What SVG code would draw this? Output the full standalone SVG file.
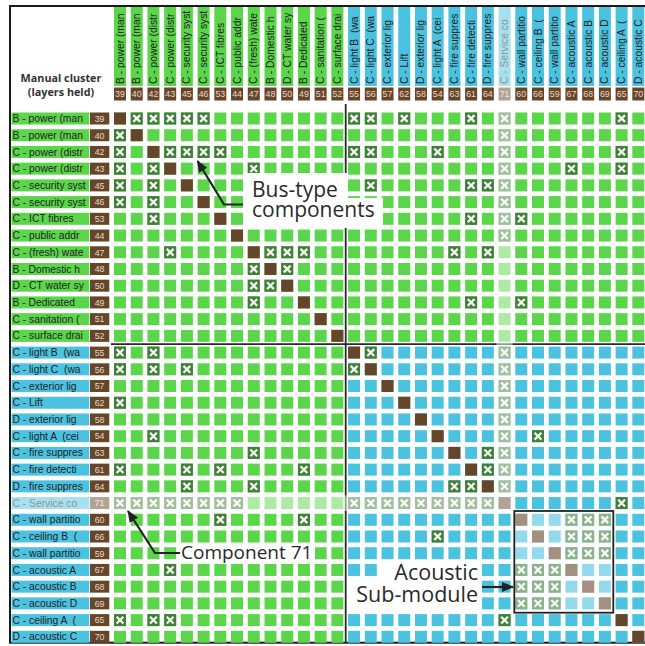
<svg xmlns="http://www.w3.org/2000/svg" xmlns:xlink="http://www.w3.org/1999/xlink" width="645" height="646" viewBox="0 0 645 646">
<style>
.lg{fill:#5BD64B}.lb{fill:#4CC2E1}.nb{fill:#66462A}
.t{font-family:"Liberation Sans",Arial,sans-serif;font-size:10.3px;fill:#222}
.n{font-family:"Liberation Sans",Arial,sans-serif;font-size:8.8px;fill:#E8D9C6;text-anchor:middle}
.ann{font-family:"Open Sans","Liberation Sans",sans-serif;font-size:21px;fill:#2a2a2a}
.hd{font-family:"Open Sans","Liberation Sans",sans-serif;font-size:10.8px;font-weight:700;fill:#333;text-anchor:middle}
.div{stroke:#2a2a2a;stroke-width:1.8;fill:none}
.arr{stroke:#222;stroke-width:2.2;fill:none;marker-end:url(#ah)}
</style>
<defs>
<rect id="d" width="12" height="12" fill="#66462A"/>
<g id="x"><rect width="12" height="12" fill="#3F7F3A"/><path d="M2.6,2.6L9.4,9.4M9.4,2.6L2.6,9.4" stroke="#F4F4EC" stroke-width="2.3"/></g>
<g id="rowG" class="lg"><rect x="0" width="12" height="12"/><rect x="16.72" width="12" height="12"/><rect x="33.44" width="12" height="12"/><rect x="50.16" width="12" height="12"/><rect x="66.88" width="12" height="12"/><rect x="83.6" width="12" height="12"/><rect x="100.32" width="12" height="12"/><rect x="117.04" width="12" height="12"/><rect x="133.76" width="12" height="12"/><rect x="150.48" width="12" height="12"/><rect x="167.2" width="12" height="12"/><rect x="183.92" width="12" height="12"/><rect x="200.64" width="12" height="12"/><rect x="217.36" width="12" height="12"/><rect x="234.08" width="12" height="12"/><rect x="250.8" width="12" height="12"/><rect x="267.52" width="12" height="12"/><rect x="284.24" width="12" height="12"/><rect x="300.96" width="12" height="12"/><rect x="317.68" width="12" height="12"/><rect x="334.4" width="12" height="12"/><rect x="351.12" width="12" height="12"/><rect x="367.84" width="12" height="12"/><rect x="384.56" width="12" height="12"/><rect x="401.28" width="12" height="12"/><rect x="418" width="12" height="12"/><rect x="434.72" width="12" height="12"/><rect x="451.44" width="12" height="12"/><rect x="468.16" width="12" height="12"/><rect x="484.88" width="12" height="12"/><rect x="501.6" width="12" height="12"/><rect x="518.32" width="12" height="12"/></g>
<g id="rowM"><g class="lg"><rect x="0" width="12" height="12"/><rect x="16.72" width="12" height="12"/><rect x="33.44" width="12" height="12"/><rect x="50.16" width="12" height="12"/><rect x="66.88" width="12" height="12"/><rect x="83.6" width="12" height="12"/><rect x="100.32" width="12" height="12"/><rect x="117.04" width="12" height="12"/><rect x="133.76" width="12" height="12"/><rect x="150.48" width="12" height="12"/><rect x="167.2" width="12" height="12"/><rect x="183.92" width="12" height="12"/><rect x="200.64" width="12" height="12"/><rect x="217.36" width="12" height="12"/></g><g class="lb"><rect x="234.08" width="12" height="12"/><rect x="250.8" width="12" height="12"/><rect x="267.52" width="12" height="12"/><rect x="284.24" width="12" height="12"/><rect x="300.96" width="12" height="12"/><rect x="317.68" width="12" height="12"/><rect x="334.4" width="12" height="12"/><rect x="351.12" width="12" height="12"/><rect x="367.84" width="12" height="12"/><rect x="384.56" width="12" height="12"/><rect x="401.28" width="12" height="12"/><rect x="418" width="12" height="12"/><rect x="434.72" width="12" height="12"/><rect x="451.44" width="12" height="12"/><rect x="468.16" width="12" height="12"/><rect x="484.88" width="12" height="12"/><rect x="501.6" width="12" height="12"/><rect x="518.32" width="12" height="12"/></g></g>
<marker id="ah" markerUnits="userSpaceOnUse" markerWidth="12" markerHeight="10" refX="11" refY="5" orient="auto"><path d="M0,0L12,5L0,10z" fill="#222"/></marker>
</defs>
<rect width="645" height="646" fill="#fff"/>
<rect x="10" y="6" width="640" height="636.7" fill="none" stroke="#1a1a1a" stroke-width="2"/>
<g id="title"><text class="hd" x="61" y="82">Manual cluster</text><text class="hd" x="61" y="96">(layers held)</text></g>

<g id="row-labels">
<g id="r39" transform="translate(0,112.5)"><rect class="lg" x="11.5" width="77.8" height="12"/><rect class="nb" x="90" width="19.3" height="12"/><text class="t" x="12.5" y="9.6">B - power (man</text><text class="n" x="99.6" y="9.3">39</text></g>
<g id="r40" transform="translate(0,129.22)"><rect class="lg" x="11.5" width="77.8" height="12"/><rect class="nb" x="90" width="19.3" height="12"/><text class="t" x="12.5" y="9.6">B - power (man</text><text class="n" x="99.6" y="9.3">40</text></g>
<g id="r42" transform="translate(0,145.94)"><rect class="lg" x="11.5" width="77.8" height="12"/><rect class="nb" x="90" width="19.3" height="12"/><text class="t" x="12.5" y="9.6">C - power (distr</text><text class="n" x="99.6" y="9.3">42</text></g>
<g id="r43" transform="translate(0,162.66)"><rect class="lg" x="11.5" width="77.8" height="12"/><rect class="nb" x="90" width="19.3" height="12"/><text class="t" x="12.5" y="9.6">C - power (distr</text><text class="n" x="99.6" y="9.3">43</text></g>
<g id="r45" transform="translate(0,179.38)"><rect class="lg" x="11.5" width="77.8" height="12"/><rect class="nb" x="90" width="19.3" height="12"/><text class="t" x="12.5" y="9.6">C - security syst</text><text class="n" x="99.6" y="9.3">45</text></g>
<g id="r46" transform="translate(0,196.1)"><rect class="lg" x="11.5" width="77.8" height="12"/><rect class="nb" x="90" width="19.3" height="12"/><text class="t" x="12.5" y="9.6">C - security syst</text><text class="n" x="99.6" y="9.3">46</text></g>
<g id="r53" transform="translate(0,212.82)"><rect class="lg" x="11.5" width="77.8" height="12"/><rect class="nb" x="90" width="19.3" height="12"/><text class="t" x="12.5" y="9.6">C - ICT fibres</text><text class="n" x="99.6" y="9.3">53</text></g>
<g id="r44" transform="translate(0,229.54)"><rect class="lg" x="11.5" width="77.8" height="12"/><rect class="nb" x="90" width="19.3" height="12"/><text class="t" x="12.5" y="9.6">C - public addr</text><text class="n" x="99.6" y="9.3">44</text></g>
<g id="r47" transform="translate(0,246.26)"><rect class="lg" x="11.5" width="77.8" height="12"/><rect class="nb" x="90" width="19.3" height="12"/><text class="t" x="12.5" y="9.6">C - (fresh) wate</text><text class="n" x="99.6" y="9.3">47</text></g>
<g id="r48" transform="translate(0,262.98)"><rect class="lg" x="11.5" width="77.8" height="12"/><rect class="nb" x="90" width="19.3" height="12"/><text class="t" x="12.5" y="9.6">B - Domestic h</text><text class="n" x="99.6" y="9.3">48</text></g>
<g id="r50" transform="translate(0,279.7)"><rect class="lg" x="11.5" width="77.8" height="12"/><rect class="nb" x="90" width="19.3" height="12"/><text class="t" x="12.5" y="9.6">D - CT water sy</text><text class="n" x="99.6" y="9.3">50</text></g>
<g id="r49" transform="translate(0,296.42)"><rect class="lg" x="11.5" width="77.8" height="12"/><rect class="nb" x="90" width="19.3" height="12"/><text class="t" x="12.5" y="9.6">B - Dedicated</text><text class="n" x="99.6" y="9.3">49</text></g>
<g id="r51" transform="translate(0,313.14)"><rect class="lg" x="11.5" width="77.8" height="12"/><rect class="nb" x="90" width="19.3" height="12"/><text class="t" x="12.5" y="9.6">C - sanitation (</text><text class="n" x="99.6" y="9.3">51</text></g>
<g id="r52" transform="translate(0,329.86)"><rect class="lg" x="11.5" width="77.8" height="12"/><rect class="nb" x="90" width="19.3" height="12"/><text class="t" x="12.5" y="9.6">C - surface drai</text><text class="n" x="99.6" y="9.3">52</text></g>
<g id="r55" transform="translate(0,346.58)"><rect class="lb" x="11.5" width="77.8" height="12"/><rect class="nb" x="90" width="19.3" height="12"/><text class="t" x="12.5" y="9.6" xml:space="preserve">C - light B  (wa</text><text class="n" x="99.6" y="9.3">55</text></g>
<g id="r56" transform="translate(0,363.3)"><rect class="lb" x="11.5" width="77.8" height="12"/><rect class="nb" x="90" width="19.3" height="12"/><text class="t" x="12.5" y="9.6" xml:space="preserve">C - light C  (wa</text><text class="n" x="99.6" y="9.3">56</text></g>
<g id="r57" transform="translate(0,380.02)"><rect class="lb" x="11.5" width="77.8" height="12"/><rect class="nb" x="90" width="19.3" height="12"/><text class="t" x="12.5" y="9.6">C - exterior lig</text><text class="n" x="99.6" y="9.3">57</text></g>
<g id="r62" transform="translate(0,396.74)"><rect class="lb" x="11.5" width="77.8" height="12"/><rect class="nb" x="90" width="19.3" height="12"/><text class="t" x="12.5" y="9.6">C - Lift</text><text class="n" x="99.6" y="9.3">62</text></g>
<g id="r58" transform="translate(0,413.46)"><rect class="lb" x="11.5" width="77.8" height="12"/><rect class="nb" x="90" width="19.3" height="12"/><text class="t" x="12.5" y="9.6">D - exterior lig</text><text class="n" x="99.6" y="9.3">58</text></g>
<g id="r54" transform="translate(0,430.18)"><rect class="lb" x="11.5" width="77.8" height="12"/><rect class="nb" x="90" width="19.3" height="12"/><text class="t" x="12.5" y="9.6" xml:space="preserve">C - light A  (cei</text><text class="n" x="99.6" y="9.3">54</text></g>
<g id="r63" transform="translate(0,446.9)"><rect class="lb" x="11.5" width="77.8" height="12"/><rect class="nb" x="90" width="19.3" height="12"/><text class="t" x="12.5" y="9.6">C - fire suppres</text><text class="n" x="99.6" y="9.3">63</text></g>
<g id="r61" transform="translate(0,463.62)"><rect class="lb" x="11.5" width="77.8" height="12"/><rect class="nb" x="90" width="19.3" height="12"/><text class="t" x="12.5" y="9.6">C - fire detecti</text><text class="n" x="99.6" y="9.3">61</text></g>
<g id="r64" transform="translate(0,480.34)"><rect class="lb" x="11.5" width="77.8" height="12"/><rect class="nb" x="90" width="19.3" height="12"/><text class="t" x="12.5" y="9.6">D - fire suppres</text><text class="n" x="99.6" y="9.3">64</text></g>
<g id="r71" transform="translate(0,497.06)"><rect class="lb" x="11.5" width="77.8" height="12"/><rect class="nb" x="90" width="19.3" height="12"/><text class="t" x="12.5" y="9.6">C - Service co</text><text class="n" x="99.6" y="9.3">71</text></g>
<g id="r60" transform="translate(0,513.78)"><rect class="lb" x="11.5" width="77.8" height="12"/><rect class="nb" x="90" width="19.3" height="12"/><text class="t" x="12.5" y="9.6">C - wall partitio</text><text class="n" x="99.6" y="9.3">60</text></g>
<g id="r66" transform="translate(0,530.5)"><rect class="lb" x="11.5" width="77.8" height="12"/><rect class="nb" x="90" width="19.3" height="12"/><text class="t" x="12.5" y="9.6" xml:space="preserve">C - ceiling B  (</text><text class="n" x="99.6" y="9.3">66</text></g>
<g id="r59" transform="translate(0,547.22)"><rect class="lb" x="11.5" width="77.8" height="12"/><rect class="nb" x="90" width="19.3" height="12"/><text class="t" x="12.5" y="9.6">C - wall partitio</text><text class="n" x="99.6" y="9.3">59</text></g>
<g id="r67" transform="translate(0,563.94)"><rect class="lb" x="11.5" width="77.8" height="12"/><rect class="nb" x="90" width="19.3" height="12"/><text class="t" x="12.5" y="9.6">C - acoustic A</text><text class="n" x="99.6" y="9.3">67</text></g>
<g id="r68" transform="translate(0,580.66)"><rect class="lb" x="11.5" width="77.8" height="12"/><rect class="nb" x="90" width="19.3" height="12"/><text class="t" x="12.5" y="9.6">C - acoustic B</text><text class="n" x="99.6" y="9.3">68</text></g>
<g id="r69" transform="translate(0,597.38)"><rect class="lb" x="11.5" width="77.8" height="12"/><rect class="nb" x="90" width="19.3" height="12"/><text class="t" x="12.5" y="9.6">C - acoustic D</text><text class="n" x="99.6" y="9.3">69</text></g>
<g id="r65" transform="translate(0,614.1)"><rect class="lb" x="11.5" width="77.8" height="12"/><rect class="nb" x="90" width="19.3" height="12"/><text class="t" x="12.5" y="9.6" xml:space="preserve">C - ceiling A  (</text><text class="n" x="99.6" y="9.3">65</text></g>
<g id="r70" transform="translate(0,630.82)"><rect class="lb" x="11.5" width="77.8" height="12"/><rect class="nb" x="90" width="19.3" height="12"/><text class="t" x="12.5" y="9.6">D - acoustic C</text><text class="n" x="99.6" y="9.3">70</text></g>
</g>

<g id="column-headers">
<g id="c39" transform="translate(114,0)"><rect class="lg" y="7" width="12" height="79"/><rect class="nb" y="87.5" width="12" height="13"/><text class="t" transform="translate(9.5,84) rotate(-90)">B - power (man</text><text class="n" x="6" y="97">39</text></g>
<g id="c40" transform="translate(130.72,0)"><rect class="lg" y="7" width="12" height="79"/><rect class="nb" y="87.5" width="12" height="13"/><text class="t" transform="translate(9.5,84) rotate(-90)">B - power (man</text><text class="n" x="6" y="97">40</text></g>
<g id="c42" transform="translate(147.44,0)"><rect class="lg" y="7" width="12" height="79"/><rect class="nb" y="87.5" width="12" height="13"/><text class="t" transform="translate(9.5,84) rotate(-90)">C - power (distr</text><text class="n" x="6" y="97">42</text></g>
<g id="c43" transform="translate(164.16,0)"><rect class="lg" y="7" width="12" height="79"/><rect class="nb" y="87.5" width="12" height="13"/><text class="t" transform="translate(9.5,84) rotate(-90)">C - power (distr</text><text class="n" x="6" y="97">43</text></g>
<g id="c45" transform="translate(180.88,0)"><rect class="lg" y="7" width="12" height="79"/><rect class="nb" y="87.5" width="12" height="13"/><text class="t" transform="translate(9.5,84) rotate(-90)">C - security syst</text><text class="n" x="6" y="97">45</text></g>
<g id="c46" transform="translate(197.6,0)"><rect class="lg" y="7" width="12" height="79"/><rect class="nb" y="87.5" width="12" height="13"/><text class="t" transform="translate(9.5,84) rotate(-90)">C - security syst</text><text class="n" x="6" y="97">46</text></g>
<g id="c53" transform="translate(214.32,0)"><rect class="lg" y="7" width="12" height="79"/><rect class="nb" y="87.5" width="12" height="13"/><text class="t" transform="translate(9.5,84) rotate(-90)">C - ICT fibres</text><text class="n" x="6" y="97">53</text></g>
<g id="c44" transform="translate(231.04,0)"><rect class="lg" y="7" width="12" height="79"/><rect class="nb" y="87.5" width="12" height="13"/><text class="t" transform="translate(9.5,84) rotate(-90)">C - public addr</text><text class="n" x="6" y="97">44</text></g>
<g id="c47" transform="translate(247.76,0)"><rect class="lg" y="7" width="12" height="79"/><rect class="nb" y="87.5" width="12" height="13"/><text class="t" transform="translate(9.5,84) rotate(-90)">C - (fresh) wate</text><text class="n" x="6" y="97">47</text></g>
<g id="c48" transform="translate(264.48,0)"><rect class="lg" y="7" width="12" height="79"/><rect class="nb" y="87.5" width="12" height="13"/><text class="t" transform="translate(9.5,84) rotate(-90)">B - Domestic h</text><text class="n" x="6" y="97">48</text></g>
<g id="c50" transform="translate(281.2,0)"><rect class="lg" y="7" width="12" height="79"/><rect class="nb" y="87.5" width="12" height="13"/><text class="t" transform="translate(9.5,84) rotate(-90)">D - CT water sy</text><text class="n" x="6" y="97">50</text></g>
<g id="c49" transform="translate(297.92,0)"><rect class="lg" y="7" width="12" height="79"/><rect class="nb" y="87.5" width="12" height="13"/><text class="t" transform="translate(9.5,84) rotate(-90)">B - Dedicated</text><text class="n" x="6" y="97">49</text></g>
<g id="c51" transform="translate(314.64,0)"><rect class="lg" y="7" width="12" height="79"/><rect class="nb" y="87.5" width="12" height="13"/><text class="t" transform="translate(9.5,84) rotate(-90)">C - sanitation (</text><text class="n" x="6" y="97">51</text></g>
<g id="c52" transform="translate(331.36,0)"><rect class="lg" y="7" width="12" height="79"/><rect class="nb" y="87.5" width="12" height="13"/><text class="t" transform="translate(9.5,84) rotate(-90)">C - surface drai</text><text class="n" x="6" y="97">52</text></g>
<g id="c55" transform="translate(348.08,0)"><rect class="lb" y="7" width="12" height="79"/><rect class="nb" y="87.5" width="12" height="13"/><text class="t" transform="translate(9.5,84) rotate(-90)" xml:space="preserve">C - light B  (wa</text><text class="n" x="6" y="97">55</text></g>
<g id="c56" transform="translate(364.8,0)"><rect class="lb" y="7" width="12" height="79"/><rect class="nb" y="87.5" width="12" height="13"/><text class="t" transform="translate(9.5,84) rotate(-90)" xml:space="preserve">C - light C  (wa</text><text class="n" x="6" y="97">56</text></g>
<g id="c57" transform="translate(381.52,0)"><rect class="lb" y="7" width="12" height="79"/><rect class="nb" y="87.5" width="12" height="13"/><text class="t" transform="translate(9.5,84) rotate(-90)">C - exterior lig</text><text class="n" x="6" y="97">57</text></g>
<g id="c62" transform="translate(398.24,0)"><rect class="lb" y="7" width="12" height="79"/><rect class="nb" y="87.5" width="12" height="13"/><text class="t" transform="translate(9.5,84) rotate(-90)">C - Lift</text><text class="n" x="6" y="97">62</text></g>
<g id="c58" transform="translate(414.96,0)"><rect class="lb" y="7" width="12" height="79"/><rect class="nb" y="87.5" width="12" height="13"/><text class="t" transform="translate(9.5,84) rotate(-90)">D - exterior lig</text><text class="n" x="6" y="97">58</text></g>
<g id="c54" transform="translate(431.68,0)"><rect class="lb" y="7" width="12" height="79"/><rect class="nb" y="87.5" width="12" height="13"/><text class="t" transform="translate(9.5,84) rotate(-90)" xml:space="preserve">C - light A  (cei</text><text class="n" x="6" y="97">54</text></g>
<g id="c63" transform="translate(448.4,0)"><rect class="lb" y="7" width="12" height="79"/><rect class="nb" y="87.5" width="12" height="13"/><text class="t" transform="translate(9.5,84) rotate(-90)">C - fire suppres</text><text class="n" x="6" y="97">63</text></g>
<g id="c61" transform="translate(465.12,0)"><rect class="lb" y="7" width="12" height="79"/><rect class="nb" y="87.5" width="12" height="13"/><text class="t" transform="translate(9.5,84) rotate(-90)">C - fire detecti</text><text class="n" x="6" y="97">61</text></g>
<g id="c64" transform="translate(481.84,0)"><rect class="lb" y="7" width="12" height="79"/><rect class="nb" y="87.5" width="12" height="13"/><text class="t" transform="translate(9.5,84) rotate(-90)">D - fire suppres</text><text class="n" x="6" y="97">64</text></g>
<g id="c71" transform="translate(498.56,0)"><rect class="lb" y="7" width="12" height="79"/><rect class="nb" y="87.5" width="12" height="13"/><text class="t" transform="translate(9.5,84) rotate(-90)">C - Service co</text><text class="n" x="6" y="97">71</text></g>
<g id="c60" transform="translate(515.28,0)"><rect class="lb" y="7" width="12" height="79"/><rect class="nb" y="87.5" width="12" height="13"/><text class="t" transform="translate(9.5,84) rotate(-90)">C - wall partitio</text><text class="n" x="6" y="97">60</text></g>
<g id="c66" transform="translate(532,0)"><rect class="lb" y="7" width="12" height="79"/><rect class="nb" y="87.5" width="12" height="13"/><text class="t" transform="translate(9.5,84) rotate(-90)" xml:space="preserve">C - ceiling B  (</text><text class="n" x="6" y="97">66</text></g>
<g id="c59" transform="translate(548.72,0)"><rect class="lb" y="7" width="12" height="79"/><rect class="nb" y="87.5" width="12" height="13"/><text class="t" transform="translate(9.5,84) rotate(-90)">C - wall partitio</text><text class="n" x="6" y="97">59</text></g>
<g id="c67" transform="translate(565.44,0)"><rect class="lb" y="7" width="12" height="79"/><rect class="nb" y="87.5" width="12" height="13"/><text class="t" transform="translate(9.5,84) rotate(-90)">C - acoustic A</text><text class="n" x="6" y="97">67</text></g>
<g id="c68" transform="translate(582.16,0)"><rect class="lb" y="7" width="12" height="79"/><rect class="nb" y="87.5" width="12" height="13"/><text class="t" transform="translate(9.5,84) rotate(-90)">C - acoustic B</text><text class="n" x="6" y="97">68</text></g>
<g id="c69" transform="translate(598.88,0)"><rect class="lb" y="7" width="12" height="79"/><rect class="nb" y="87.5" width="12" height="13"/><text class="t" transform="translate(9.5,84) rotate(-90)">C - acoustic D</text><text class="n" x="6" y="97">69</text></g>
<g id="c65" transform="translate(615.6,0)"><rect class="lb" y="7" width="12" height="79"/><rect class="nb" y="87.5" width="12" height="13"/><text class="t" transform="translate(9.5,84) rotate(-90)" xml:space="preserve">C - ceiling A  (</text><text class="n" x="6" y="97">65</text></g>
<g id="c70" transform="translate(632.32,0)"><rect class="lb" y="7" width="12" height="79"/><rect class="nb" y="87.5" width="12" height="13"/><text class="t" transform="translate(9.5,84) rotate(-90)">D - acoustic C</text><text class="n" x="6" y="97">70</text></g>
</g>

<g id="matrix" transform="translate(114,112.5)">
<use href="#rowG" y="0"/><use href="#rowG" y="16.72"/><use href="#rowG" y="33.44"/><use href="#rowG" y="50.16"/><use href="#rowG" y="66.88"/><use href="#rowG" y="83.6"/><use href="#rowG" y="100.32"/><use href="#rowG" y="117.04"/><use href="#rowG" y="133.76"/><use href="#rowG" y="150.48"/><use href="#rowG" y="167.2"/><use href="#rowG" y="183.92"/><use href="#rowG" y="200.64"/><use href="#rowG" y="217.36"/>
<use href="#rowM" y="234.08"/><use href="#rowM" y="250.8"/><use href="#rowM" y="267.52"/><use href="#rowM" y="284.24"/><use href="#rowM" y="300.96"/><use href="#rowM" y="317.68"/><use href="#rowM" y="334.4"/><use href="#rowM" y="351.12"/><use href="#rowM" y="367.84"/><use href="#rowM" y="384.56"/><use href="#rowM" y="401.28"/><use href="#rowM" y="418"/><use href="#rowM" y="434.72"/><use href="#rowM" y="451.44"/><use href="#rowM" y="468.16"/><use href="#rowM" y="484.88"/><use href="#rowM" y="501.6"/><use href="#rowM" y="518.32"/>
<g id="diagonal">
<use href="#d" x="0" y="0"/><use href="#d" x="16.72" y="16.72"/><use href="#d" x="33.44" y="33.44"/><use href="#d" x="50.16" y="50.16"/><use href="#d" x="66.88" y="66.88"/><use href="#d" x="83.6" y="83.6"/><use href="#d" x="100.32" y="100.32"/><use href="#d" x="117.04" y="117.04"/><use href="#d" x="133.76" y="133.76"/><use href="#d" x="150.48" y="150.48"/><use href="#d" x="167.2" y="167.2"/><use href="#d" x="183.92" y="183.92"/><use href="#d" x="200.64" y="200.64"/><use href="#d" x="217.36" y="217.36"/><use href="#d" x="234.08" y="234.08"/><use href="#d" x="250.8" y="250.8"/><use href="#d" x="267.52" y="267.52"/><use href="#d" x="284.24" y="284.24"/><use href="#d" x="300.96" y="300.96"/><use href="#d" x="317.68" y="317.68"/><use href="#d" x="334.4" y="334.4"/><use href="#d" x="351.12" y="351.12"/><use href="#d" x="367.84" y="367.84"/><use href="#d" x="384.56" y="384.56"/><use href="#d" x="401.28" y="401.28"/><use href="#d" x="418" y="418"/><use href="#d" x="434.72" y="434.72"/><use href="#d" x="451.44" y="451.44"/><use href="#d" x="468.16" y="468.16"/><use href="#d" x="484.88" y="484.88"/><use href="#d" x="501.6" y="501.6"/><use href="#d" x="518.32" y="518.32"/>
</g>
<g id="connectors">
<use href="#x" x="16.72" y="0"/><use href="#x" x="0" y="16.72"/>
<use href="#x" x="33.44" y="0"/><use href="#x" x="0" y="33.44"/>
<use href="#x" x="50.16" y="0"/><use href="#x" x="0" y="50.16"/>
<use href="#x" x="66.88" y="0"/><use href="#x" x="0" y="66.88"/>
<use href="#x" x="83.6" y="0"/><use href="#x" x="0" y="83.6"/>
<use href="#x" x="234.08" y="0"/><use href="#x" x="0" y="234.08"/>
<use href="#x" x="250.8" y="0"/><use href="#x" x="0" y="250.8"/>
<use href="#x" x="284.24" y="0"/><use href="#x" x="0" y="284.24"/>
<use href="#x" x="351.12" y="0"/><use href="#x" x="0" y="351.12"/>
<use href="#x" x="384.56" y="0"/><use href="#x" x="0" y="384.56"/>
<use href="#x" x="501.6" y="0"/><use href="#x" x="0" y="501.6"/>
<use href="#x" x="384.56" y="16.72"/><use href="#x" x="16.72" y="384.56"/>
<use href="#x" x="50.16" y="33.44"/><use href="#x" x="33.44" y="50.16"/>
<use href="#x" x="66.88" y="33.44"/><use href="#x" x="33.44" y="66.88"/>
<use href="#x" x="83.6" y="33.44"/><use href="#x" x="33.44" y="83.6"/>
<use href="#x" x="100.32" y="33.44"/><use href="#x" x="33.44" y="100.32"/>
<use href="#x" x="234.08" y="33.44"/><use href="#x" x="33.44" y="234.08"/>
<use href="#x" x="250.8" y="33.44"/><use href="#x" x="33.44" y="250.8"/>
<use href="#x" x="317.68" y="33.44"/><use href="#x" x="33.44" y="317.68"/>
<use href="#x" x="384.56" y="33.44"/><use href="#x" x="33.44" y="384.56"/>
<use href="#x" x="501.6" y="33.44"/><use href="#x" x="33.44" y="501.6"/>
<use href="#x" x="133.76" y="50.16"/><use href="#x" x="50.16" y="133.76"/>
<use href="#x" x="384.56" y="50.16"/><use href="#x" x="50.16" y="384.56"/>
<use href="#x" x="451.44" y="50.16"/><use href="#x" x="50.16" y="451.44"/>
<use href="#x" x="501.6" y="50.16"/><use href="#x" x="50.16" y="501.6"/>
<use href="#x" x="250.8" y="66.88"/><use href="#x" x="66.88" y="250.8"/>
<use href="#x" x="351.12" y="66.88"/><use href="#x" x="66.88" y="351.12"/>
<use href="#x" x="367.84" y="66.88"/><use href="#x" x="66.88" y="367.84"/>
<use href="#x" x="384.56" y="66.88"/><use href="#x" x="66.88" y="384.56"/>
<use href="#x" x="384.56" y="83.6"/><use href="#x" x="83.6" y="384.56"/>
<use href="#x" x="351.12" y="100.32"/><use href="#x" x="100.32" y="351.12"/>
<use href="#x" x="384.56" y="100.32"/><use href="#x" x="100.32" y="384.56"/>
<use href="#x" x="401.28" y="100.32"/><use href="#x" x="100.32" y="401.28"/>
<use href="#x" x="384.56" y="117.04"/><use href="#x" x="117.04" y="384.56"/>
<use href="#x" x="150.48" y="133.76"/><use href="#x" x="133.76" y="150.48"/>
<use href="#x" x="167.2" y="133.76"/><use href="#x" x="133.76" y="167.2"/>
<use href="#x" x="183.92" y="133.76"/><use href="#x" x="133.76" y="183.92"/>
<use href="#x" x="334.4" y="133.76"/><use href="#x" x="133.76" y="334.4"/>
<use href="#x" x="367.84" y="133.76"/><use href="#x" x="133.76" y="367.84"/>
<use href="#x" x="167.2" y="150.48"/><use href="#x" x="150.48" y="167.2"/>
<use href="#x" x="351.12" y="183.92"/><use href="#x" x="183.92" y="351.12"/>
<use href="#x" x="401.28" y="183.92"/><use href="#x" x="183.92" y="401.28"/>
<use href="#x" x="250.8" y="234.08"/><use href="#x" x="234.08" y="250.8"/>
<use href="#x" x="384.56" y="234.08"/><use href="#x" x="234.08" y="384.56"/>
<use href="#x" x="384.56" y="250.8"/><use href="#x" x="250.8" y="384.56"/>
<use href="#x" x="384.56" y="267.52"/><use href="#x" x="267.52" y="384.56"/>
<use href="#x" x="384.56" y="284.24"/><use href="#x" x="284.24" y="384.56"/>
<use href="#x" x="384.56" y="300.96"/><use href="#x" x="300.96" y="384.56"/>
<use href="#x" x="384.56" y="317.68"/><use href="#x" x="317.68" y="384.56"/>
<use href="#x" x="418" y="317.68"/><use href="#x" x="317.68" y="418"/>
<use href="#x" x="367.84" y="334.4"/><use href="#x" x="334.4" y="367.84"/>
<use href="#x" x="384.56" y="334.4"/><use href="#x" x="334.4" y="384.56"/>
<use href="#x" x="367.84" y="351.12"/><use href="#x" x="351.12" y="367.84"/>
<use href="#x" x="384.56" y="351.12"/><use href="#x" x="351.12" y="384.56"/>
<use href="#x" x="384.56" y="367.84"/><use href="#x" x="367.84" y="384.56"/>
<use href="#x" x="501.6" y="384.56"/><use href="#x" x="384.56" y="501.6"/>
<use href="#x" x="451.44" y="401.28"/><use href="#x" x="401.28" y="451.44"/>
<use href="#x" x="468.16" y="401.28"/><use href="#x" x="401.28" y="468.16"/>
<use href="#x" x="484.88" y="401.28"/><use href="#x" x="401.28" y="484.88"/>
<use href="#x" x="451.44" y="418"/><use href="#x" x="418" y="451.44"/>
<use href="#x" x="468.16" y="418"/><use href="#x" x="418" y="468.16"/>
<use href="#x" x="484.88" y="418"/><use href="#x" x="418" y="484.88"/>
<use href="#x" x="451.44" y="434.72"/><use href="#x" x="434.72" y="451.44"/>
<use href="#x" x="468.16" y="434.72"/><use href="#x" x="434.72" y="468.16"/>
<use href="#x" x="484.88" y="434.72"/><use href="#x" x="434.72" y="484.88"/>
</g>
</g>

<g id="dividers">
<path class="div" d="M345.7,104V643"/>
<path class="div" d="M111,344.2H645"/>
</g>

<g id="highlight-71"><path d="M11,495.3H496.4V7H512.7V510.9H11Z" fill="#fff" fill-opacity="0.5"/></g>

<g id="acoustic-submodule">
<rect x="514.5" y="512" width="98" height="99.6" fill="#fff" fill-opacity="0.4"/>
<rect x="514.3" y="511" width="99" height="101.7" fill="none" stroke="#222" stroke-width="1.8"/>
</g>

<g id="note-bus">
<rect x="243" y="173" width="104" height="27" fill="#fff"/>
<rect x="243" y="198" width="140" height="30" fill="#fff"/>
<text class="ann"><tspan x="252" y="197">Bus-type</tspan><tspan x="252" y="216.5">components</tspan></text>
<path class="arr" d="M243,204.5H224L197.5,161"/>
</g>

<g id="note-71">
<rect x="177" y="544" width="138" height="18" fill="#fff"/>
<text class="ann" x="181" y="558.5" style="font-size:19px">Component 71</text>
<path class="arr" d="M180,553H155L128,511"/>
</g>

<g id="note-acoustic">
<rect x="381" y="561" width="100.5" height="19" fill="#fff"/>
<rect x="347" y="579" width="134.5" height="33" fill="#fff"/>
<text class="ann" text-anchor="end" style="font-size:21.5px"><tspan x="478" y="580">Acoustic</tspan><tspan x="478" y="601.5">Sub-module</tspan></text>
<path class="arr" d="M482,587H513"/>
</g>
</svg>
